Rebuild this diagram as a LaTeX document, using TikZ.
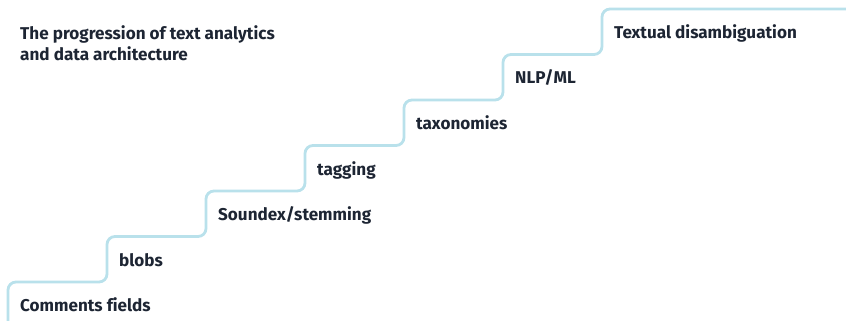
\documentclass[tikz,border=0pt]{standalone}
\usepackage{fontspec}
\setmainfont[Ligatures=NoCommon]{Fira Sans}
\definecolor{stairblue}{HTML}{B9E1EB}
\definecolor{labelink}{HTML}{1D2533}
\begin{document}
\begin{tikzpicture}[x=1pt,y=-1pt,
  lbl/.style={anchor=base west,inner sep=0pt,text=labelink,font=\fontsize{17.1}{22}\selectfont\bfseries},
  stair/.style={draw=stairblue,line width=2.8pt,rounded corners=8pt}]
\useasboundingbox (0,0) rectangle (846,321);
\coordinate (s0) at (8,321);
\draw[stair] (s0) -- (8,282) -- (107,282) -- (107,236.5) -- (206,236.5) -- (206,191)
  -- (305,191) -- (305,145.5) -- (404,145.5) -- (404,100) -- (503,100) -- (503,54.5)
  -- (602,54.5) -- (602,9) -- (846,9);
\node[lbl] (t1) at (20,39.5) {The progression of text analytics};
\node[lbl] (t2) at (20,60.5) {and data architecture};
\node[lbl] (l0) at (20,311.5) {Comments fields};
\node[lbl] (l1) at (119,266) {blobs};
\node[lbl] (l2) at (218,220.5) {Soundex/stemming};
\node[lbl] (l3) at (317,175) {tagging};
\node[lbl] (l4) at (416,129.5) {taxonomies};
\node[lbl] (l5) at (515,84) {NLP/ML};
\node[lbl] (l6) at (614,38.5) {Textual disambiguation};
\end{tikzpicture}
\end{document}
